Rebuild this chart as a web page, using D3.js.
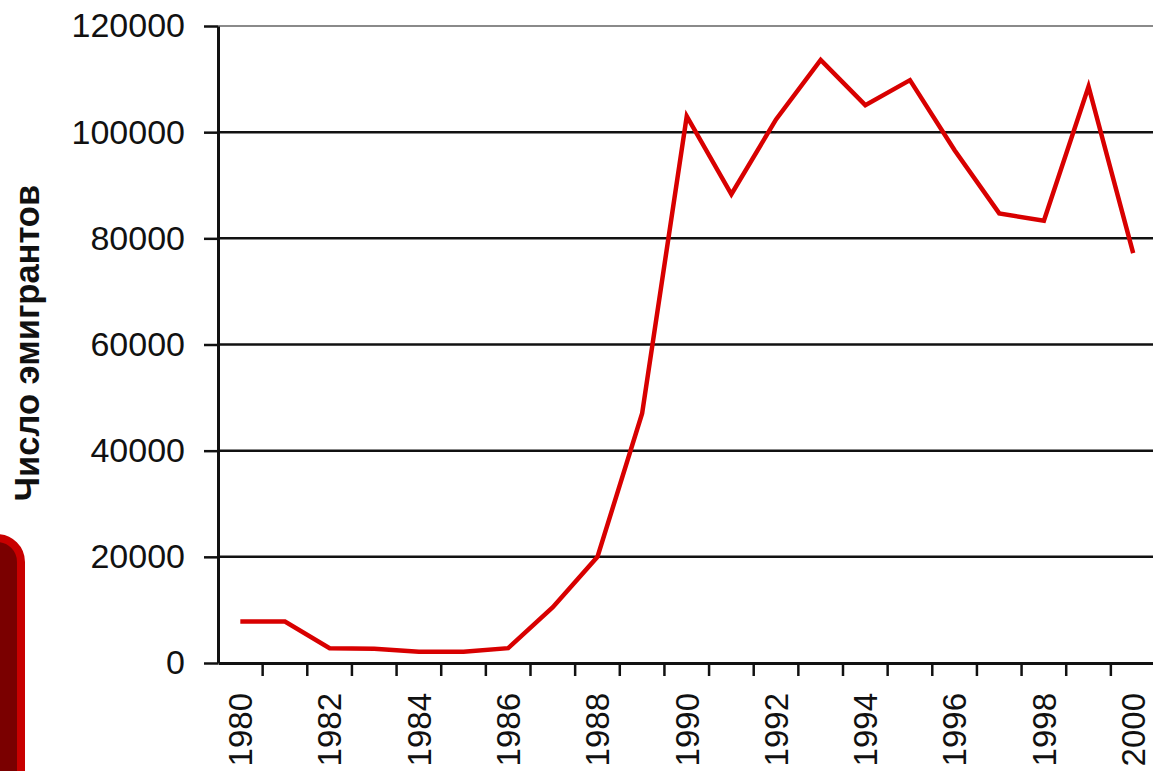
<!DOCTYPE html>
<html>
<head>
<meta charset="utf-8">
<script src="https://cdn.jsdelivr.net/npm/d3@7"></script>
<style>
  html, body { margin: 0; padding: 0; background: #fff; overflow: hidden; }
  svg { display: block; font-family: "Liberation Sans", Arial, sans-serif; }
</style>
</head>
<body>
<svg id="chart" width="1153" height="771"></svg>
<script>
const years = ["1980","1981","1982","1983","1984","1985","1986","1987","1988","1989","1990",
               "1991","1992","1993","1994","1995","1996","1997","1998","1999","2000"];
const emigrants = [7800, 7800, 2800, 2700, 2100, 2100, 2800, 10500, 20000, 47000, 103000,
                   88300, 102400, 113600, 105100, 109800, 96600, 84700, 83300, 108600, 77200];
const yTicks = [0, 20000, 40000, 60000, 80000, 100000, 120000];
const xLabelYears = ["1980","1982","1984","1986","1988","1990","1992","1994","1996","1998","2000"];
const yTitle = "Число эмигрантов";

(function () {
const svg = d3.select("#chart");

// decorative red box at the left
svg.append("rect")
  .attr("x", -40).attr("y", 538)
  .attr("width", 61).attr("height", 300)
  .attr("rx", 24).attr("ry", 24)
  .attr("fill", "#7a0000")
  .attr("stroke", "#c80000")
  .attr("stroke-width", 8);

const pLeft = 218, pRight = 1155.5, pTop = 26, pBottom = 663;

const x = d3.scaleBand().domain(years).range([pLeft, pRight]).padding(0);
const y = d3.scaleLinear().domain([0, 120000]).range([pBottom, pTop]);

// gridlines
svg.append("g").selectAll("line")
  .data(yTicks.filter(d => d > 0))
  .join("line")
  .attr("x1", pLeft).attr("x2", pRight)
  .attr("y1", d => y(d)).attr("y2", d => y(d))
  .attr("stroke", d => d === 120000 ? "#8a8a8a" : "#111")
  .attr("stroke-width", d => d === 120000 ? 2 : 2.5);

// y axis
const yAxis = svg.append("g")
  .attr("transform", `translate(${pLeft},0)`)
  .call(d3.axisLeft(y).tickValues(yTicks).tickFormat(d3.format("d"))
        .tickSize(14).tickPadding(19).tickSizeOuter(0));
yAxis.select(".domain").attr("stroke", "#111").attr("stroke-width", 3);
yAxis.selectAll(".tick line").attr("stroke", "#111").attr("stroke-width", 2.5);
yAxis.selectAll(".tick text")
  .attr("font-size", 34).attr("fill", "#111")
  .attr("font-family", "'Liberation Sans', Arial, sans-serif");

// x axis
const xAxis = svg.append("g")
  .attr("transform", `translate(0,${pBottom})`)
  .call(d3.axisBottom(x).tickValues(xLabelYears).tickSize(0).tickPadding(0).tickSizeOuter(0));
xAxis.select(".domain").attr("stroke", "#111").attr("stroke-width", 3);
xAxis.selectAll(".tick text")
  .attr("font-size", 33).attr("fill", "#111")
  .attr("font-family", "'Liberation Sans', Arial, sans-serif")
  .attr("text-anchor", "end")
  .attr("transform", "translate(0,30) rotate(-90)")
  .attr("x", 0).attr("y", 0).attr("dy", "0.36em");

// x tick marks between categories
const edges = years.map(d => x(d)).concat([x.range()[1]]);
svg.append("g").selectAll("line")
  .data(edges.slice(1))
  .join("line")
  .attr("x1", d => d).attr("x2", d => d)
  .attr("y1", pBottom).attr("y2", pBottom + 13)
  .attr("stroke", "#111").attr("stroke-width", 2.5);

// data line
const line = d3.line()
  .x((d, i) => x(years[i]) + x.bandwidth() / 2)
  .y(d => y(d));
svg.append("path")
  .datum(emigrants)
  .attr("d", line)
  .attr("fill", "none")
  .attr("stroke", "#d80000")
  .attr("stroke-width", 4.5)
  .attr("stroke-linejoin", "miter");

// y title
svg.append("text")
  .attr("transform", `translate(39,343) rotate(-90)`)
  .attr("text-anchor", "middle")
  .attr("font-size", 34.5)
  .attr("font-weight", "bold")
  .attr("fill", "#111")
  .text(yTitle);
})();
</script>
</body>
</html>
